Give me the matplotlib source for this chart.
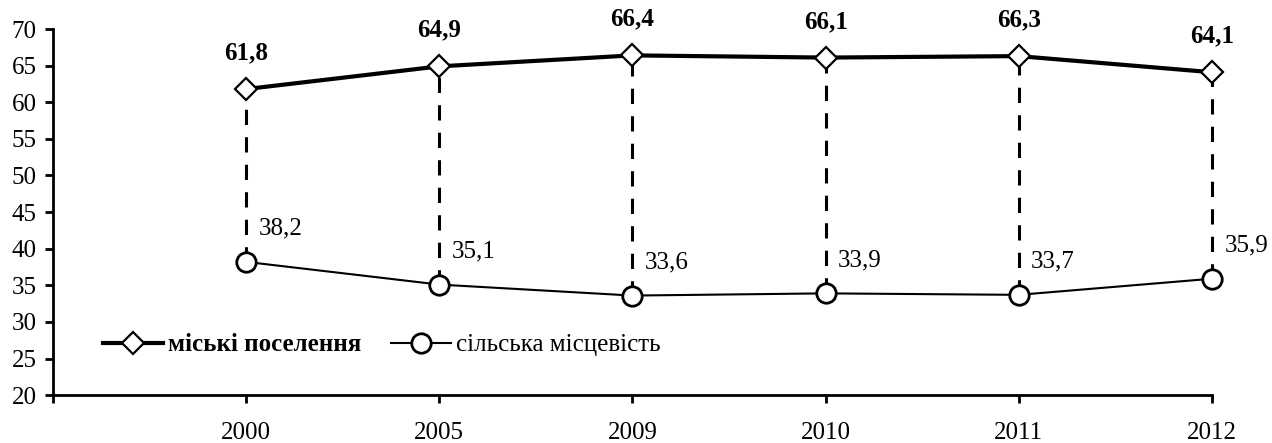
import matplotlib.pyplot as plt

years = ['2000', '2005', '2009', '2010', '2011', '2012']
urban = [61.8, 64.9, 66.4, 66.1, 66.3, 64.1]
rural = [38.2, 35.1, 33.6, 33.9, 33.7, 35.9]
urban_label = 'міські поселення'
rural_label = 'сільська місцевість'

plt.rcParams['font.family'] = ['Liberation Serif', 'DejaVu Serif']
plt.rcParams['font.size'] = 18

fig = plt.figure(figsize=(12.72, 4.43), dpi=100)
ax = fig.add_axes([0.0417, 0.108, 0.911, 0.8265])

x = list(range(len(years)))

# dashed drop lines between the two series
for xi, u, r in zip(x, urban, rural):
    ax.plot([xi, xi], [r, u], color='black', lw=2.2, ls=(0, (5, 4)),
            zorder=1, clip_on=False)

ax.plot(x, urban, color='black', lw=3, marker='D', markersize=11,
        markerfacecolor='white', markeredgecolor='black', markeredgewidth=1.6,
        label=urban_label, zorder=3, clip_on=False)
ax.plot(x, rural, color='black', lw=1.5, marker='o', markersize=14,
        markerfacecolor='white', markeredgecolor='black', markeredgewidth=2,
        label=rural_label, zorder=3, clip_on=False)

for xi, u in zip(x, urban):
    ax.annotate(f'{u:.1f}'.replace('.', ','), (xi, u), xytext=(0, 26),
                textcoords='offset points', ha='center', va='center',
                fontweight='bold')
for xi, r in zip(x, rural):
    ax.annotate(f'{r:.1f}'.replace('.', ','), (xi, r), xytext=(9, 24),
                textcoords='offset points', ha='left', va='center')

ax.set_xlim(-1, len(years) - 1)
ax.set_ylim(20, 70)
ax.set_yticks(range(20, 71, 5))
ax.set_xticks([-1] + x)
ax.set_xticklabels([''] + years)

for side in ['top', 'right']:
    ax.spines[side].set_visible(False)
for side in ['left', 'bottom']:
    ax.spines[side].set_linewidth(2)
ax.tick_params(axis='both', width=2, length=6, color='black')
ax.tick_params(axis='x', pad=13)
ax.tick_params(axis='y', pad=6)

leg = ax.legend(loc='center left', bbox_to_anchor=(0.043, 0.137), ncol=2,
                frameon=False, borderpad=0, borderaxespad=0,
                handlelength=2.4, handletextpad=0.2, columnspacing=1.2)
leg.get_texts()[0].set_fontweight('bold')

fig.savefig('out.png', dpi=100)
